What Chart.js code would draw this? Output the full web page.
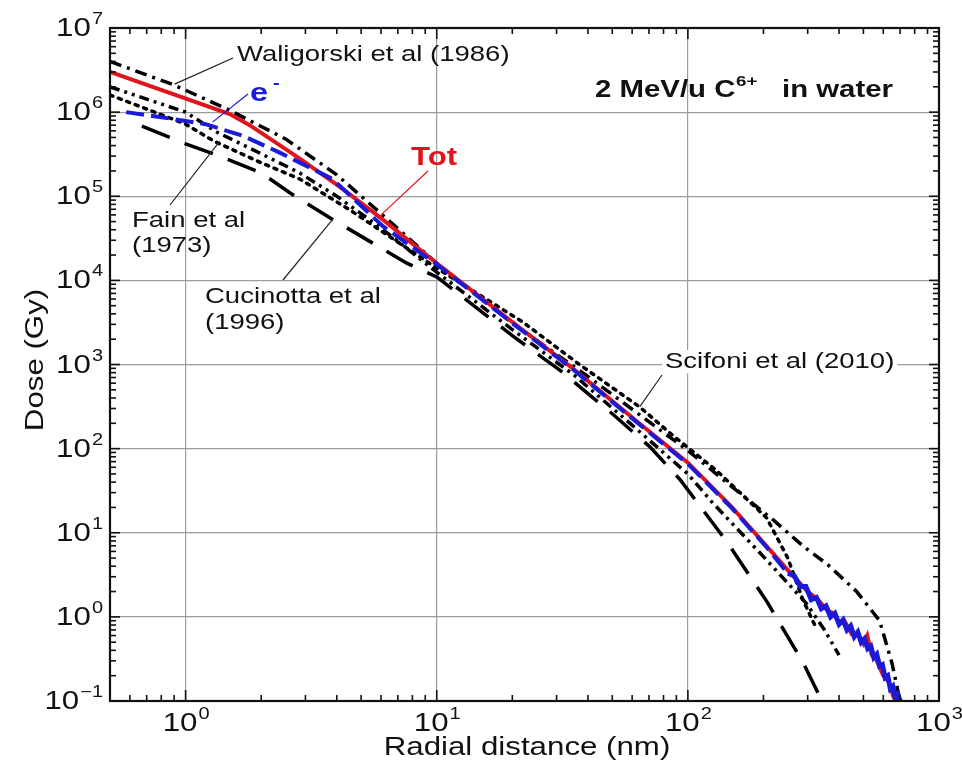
<!DOCTYPE html>
<html>
<head>
<meta charset="utf-8">
<script src="https://cdn.jsdelivr.net/npm/chart.js@4.4.1/dist/chart.umd.min.js"></script>
<style>
html, body { margin: 0; padding: 0; background: #fff; }
#wrap { width: 962px; height: 763px; }
</style>
</head>
<body>
<div id="wrap"><canvas id="c" width="962" height="763"></canvas></div>
<script>
// radial distance in nm, dose in Gy
var totR = [0.5, 1.5, 1.8, 2.85, 4.1, 6, 10, 20, 34, 64, 100, 150, 207, 250, 300, 330, 358, 380, 400, 420, 450, 480, 500, 518, 540, 560, 600, 630, 660, 690];
var totD = [3.0e6, 9.5e5, 7e5, 2.8e5, 1.3e5, 5.5e4, 1.6e4, 3.2e3, 950, 200, 68, 20, 6.8, 3.6, 2.0, 1.6, 1.2, 1.1, 0.85, 0.9, 0.62, 0.6, 0.48, 0.6, 0.35, 0.32, 0.2, 0.17, 0.11, 0.1];

var elR = [0.58, 0.8, 1.2, 1.7, 2.37, 3.85, 6.1, 10, 20, 34, 64, 100, 150, 207,
  250, 265, 280, 295, 310, 325, 340, 355, 370, 385, 400, 415, 430, 445, 460, 475, 490, 505,
  520, 535, 550, 565, 580, 595, 610, 625, 640, 655, 670, 685, 700, 715];
var elD = [1.0e6, 8.7e5, 7.2e5, 5.2e5, 3.3e5, 1.6e5, 4.4e4, 1.55e4, 3.1e3, 930, 195, 66, 19.5, 6.6,
  3.3, 3.1, 2.3, 2.3, 1.6, 1.7, 1.25, 1.35, 1.0, 1.1, 0.82, 0.92, 0.7, 0.78, 0.58, 0.66, 0.5, 0.55,
  0.42, 0.45, 0.33, 0.36, 0.26, 0.27, 0.19, 0.2, 0.14, 0.15, 0.11, 0.12, 0.1, 0.1];

var walR = [0.5, 0.9, 1.5, 2.5, 4, 6, 10, 20, 40, 100, 150, 220, 290, 360, 470, 580, 650, 700];
var walD = [4.0e6, 2.1e6, 1.05e6, 4.8e5, 1.8e5, 6.2e4, 1.6e4, 3.1e3, 720, 95, 35, 14, 6.8, 4.2, 2.0, 0.9, 0.28, 0.1];

var fainR = [0.5, 1, 1.33, 2, 2.84, 4, 6, 10, 20, 35, 60, 100, 125, 200, 295, 350, 400];
var fainD = [2.0e6, 1.0e6, 5.8e5, 3.2e5, 1.9e5, 1.0e5, 4.2e4, 1.25e4, 2.6e3, 760, 190, 50, 23, 5.2, 1.47, 0.7, 0.35];

var sciR = [0.5, 1, 1.3, 2, 2.85, 4.5, 10, 22, 37, 64, 88, 130, 206, 250, 287, 320];
var sciD = [1.6e6, 7.2e5, 4.5e5, 2.5e5, 1.6e5, 6.9e4, 1.4e4, 3.2e3, 1.0e3, 316, 140, 55, 15, 5.0, 1.6, 0.8];

var cucR = [0.67, 1, 1.33, 2, 2.6, 3.85, 7.6, 10, 20, 31, 50, 70.6, 93, 143, 207, 287, 342];
var cucD = [6.8e5, 4.2e5, 3.1e5, 1.9e5, 1.1e5, 5.3e4, 1.6e4, 1.1e4, 2.2e3, 850, 260, 105, 43, 7.8, 1.5, 0.29, 0.1];

var xDecades = [0, 1, 2, 3];
var yDecades = [-1, 0, 1, 2, 3, 4, 5, 6, 7];

function pts(xs, ys) {
  return xs.map(function (x, i) { return { x: x, y: ys[i] }; });
}

var SX = 1.25; // the figure's lettering is stretched sideways
var FONT = '"Liberation Sans", Arial, Helvetica, sans-serif';

function txt(c, s, x, y, size, opt) {
  opt = opt || {};
  c.save();
  c.font = (opt.bold ? 'bold ' : '') + size + 'px ' + FONT;
  c.fillStyle = opt.color || '#111';
  c.textBaseline = 'alphabetic';
  c.textAlign = 'left';
  var w = c.measureText(s).width * SX;
  var x0 = x;
  if (opt.align === 'right') x0 = x - w;
  if (opt.align === 'center') x0 = x - w / 2;
  if (opt.bg) {
    c.fillStyle = '#fff';
    c.fillRect(x0 - 3, y - size * 0.82, w + 6, size * 1.05);
    c.fillStyle = opt.color || '#111';
  }
  c.translate(x0, y);
  c.scale(SX, 1);
  c.fillText(s, 0, 0);
  c.restore();
  return w;
}

function width(c, s, size, bold) {
  c.save();
  c.font = (bold ? 'bold ' : '') + size + 'px ' + FONT;
  var w = c.measureText(s).width * SX;
  c.restore();
  return w;
}

// "10" with a raised exponent
function pow10(c, e, x, y, align) {
  var ex = String(e).replace('-', '\u2212');
  var wb = width(c, '10', 25), we = width(c, ex, 16);
  var x0 = align === 'right' ? x - wb - we : x - (wb + we) / 2;
  txt(c, '10', x0, y, 25);
  txt(c, ex, x0 + wb + 1, y - 12, 16);
}

function seg(c, x1, y1, x2, y2) {
  c.beginPath(); c.moveTo(x1, y1); c.lineTo(x2, y2); c.stroke();
}

// label text: [text, left, baseline]
var notes = [
  ['Waligorski et al (1986)', 237, 61],
  ['Fain et al', 132, 227],
  ['(1973)', 132, 252],
  ['Cucinotta et al', 205, 303],
  ['(1996)', 205, 329]
];
// leaders: start pixel, tip in data units
var leaders = [
  [233, 58, 0.904, 2.15e6, '#222'],
  [170, 205, 1.366, 4.5e5, '#222'],
  [283, 280, 3.85, 5.3e4, '#222'],
  [662, 375, 64.4, 316, '#222'],
  [248, 94, 1.28, 7.6e5, '#1a1ad8'],
  [428, 171, 5.93, 5.8e4, '#e0141c']
];

var decor = {
  id: 'decor',
  afterDraw: function (chart) {
    var c = chart.ctx, a = chart.chartArea, xs = chart.scales.x, ys = chart.scales.y;
    c.save();
    c.strokeStyle = '#111';
    c.lineWidth = 1.6;
    // inward ticks on all four sides
    var e, m, v, p, L;
    for (e = -1; e <= 3; e++) for (m = 1; m < 10; m++) {
      v = m * Math.pow(10, e);
      if (v < xs.min * 0.999 || v > xs.max * 1.001) continue;
      p = xs.getPixelForValue(v);
      L = m === 1 ? 11 : 6;
      seg(c, p, a.bottom, p, a.bottom - L);
      seg(c, p, a.top, p, a.top + L);
    }
    for (e = -1; e <= 7; e++) for (m = 1; m < 10; m++) {
      v = m * Math.pow(10, e);
      if (v < ys.min * 0.999 || v > ys.max * 1.001) continue;
      p = ys.getPixelForValue(v);
      L = m === 1 ? 10 : 6;
      seg(c, a.left, p, a.left + L, p);
      seg(c, a.right, p, a.right - L, p);
    }
    c.lineWidth = 2.2;
    c.strokeRect(a.left, a.top, a.right - a.left, a.bottom - a.top);

    // tick labels
    yDecades.forEach(function (d) {
      pow10(c, d, 102, ys.getPixelForValue(Math.pow(10, d)) + 8, 'right');
    });
    xDecades.forEach(function (d) {
      pow10(c, d, xs.getPixelForValue(Math.pow(10, d)), a.bottom + 30, 'center');
    });

    // axis titles
    txt(c, 'Radial distance (nm)', 527, 755, 25, { align: 'center' });
    c.save();
    c.translate(43, 360);
    c.rotate(-Math.PI / 2);
    txt(c, 'Dose (Gy)', 0, 0, 25, { align: 'center' });
    c.restore();

    // leaders
    c.lineWidth = 1.2;
    leaders.forEach(function (l) {
      c.strokeStyle = l[4];
      seg(c, l[0], l[1], xs.getPixelForValue(l[2]), ys.getPixelForValue(l[3]));
    });

    // labels
    notes.forEach(function (n) { txt(c, n[0], n[1], n[2], 22); });
    txt(c, 'Scifoni et al (2010)', 665, 368, 22, { bg: true });
    txt(c, 'e', 250, 101, 26, { bold: true, color: '#1a1ad8' });
    txt(c, '-', 273, 88, 16, { bold: true, color: '#1a1ad8' });
    txt(c, 'Tot', 411, 165, 25, { bold: true, color: '#e0141c' });
    txt(c, '2 MeV/u C', 595, 97, 23.5, { bold: true });
    txt(c, '6+', 736, 86, 15, { bold: true });
    txt(c, 'in water', 782, 97, 23.5, { bold: true });
    c.restore();
  }
};

function decadeColor(ctx) {
  var v = ctx.tick ? ctx.tick.value : 0;
  if (!(v > 0)) return 'rgba(0,0,0,0)';
  var l = Math.log10(v);
  return Math.abs(l - Math.round(l)) < 1e-6 ? '#9c9c9c' : 'rgba(0,0,0,0)';
}

// past ~250 nm the e- curve turns into a thick noisy band
function tail(ctx, near, far) {
  return ctx.p0.parsed.x >= 250 ? far : near;
}

new Chart(document.getElementById('c').getContext('2d'), {
  type: 'scatter',
  data: {
    datasets: [
      {
        label: 'e-', data: pts(elR, elD), borderColor: '#1a1ad8', borderWidth: 4, borderDash: [18, 7],
        segment: {
          borderDash: function (ctx) { return tail(ctx, [18, 7], []); },
          borderWidth: function (ctx) { return tail(ctx, 4, 5); }
        }
      },
      { label: 'Tot', data: pts(totR, totD), borderColor: '#e0141c', borderWidth: 4 },
      { label: 'Waligorski et al (1986)', data: pts(walR, walD), borderColor: '#000', borderWidth: 3.5, borderDash: [12, 6, 3, 6] },
      { label: 'Fain et al (1973)', data: pts(fainR, fainD), borderColor: '#000', borderWidth: 3.5, borderDash: [10, 5, 3, 5, 3, 5] },
      { label: 'Scifoni et al (2010)', data: pts(sciR, sciD), borderColor: '#000', borderWidth: 3.5, borderDash: [3, 6], borderCapStyle: 'round' },
      { label: 'Cucinotta et al (1996)', data: pts(cucR, cucD), borderColor: '#000', borderWidth: 3.5, borderDash: [30, 16] }
    ]
  },
  options: {
    responsive: false,
    animation: false,
    showLine: true,
    elements: { point: { radius: 0, hoverRadius: 0 }, line: { tension: 0, fill: false } },
    layout: { padding: { left: 110, top: 28, right: 23, bottom: 62 } },
    plugins: { legend: { display: false }, tooltip: { enabled: false } },
    scales: {
      x: {
        type: 'logarithmic', min: 0.5, max: 1000,
        ticks: { display: false },
        grid: { color: decadeColor, lineWidth: 1.2, drawTicks: false },
        border: { display: false }
      },
      y: {
        type: 'logarithmic', min: 0.1, max: 1e7,
        ticks: { display: false },
        grid: { color: decadeColor, lineWidth: 1.2, drawTicks: false },
        border: { display: false }
      }
    }
  },
  plugins: [decor]
});
</script>
</body>
</html>
